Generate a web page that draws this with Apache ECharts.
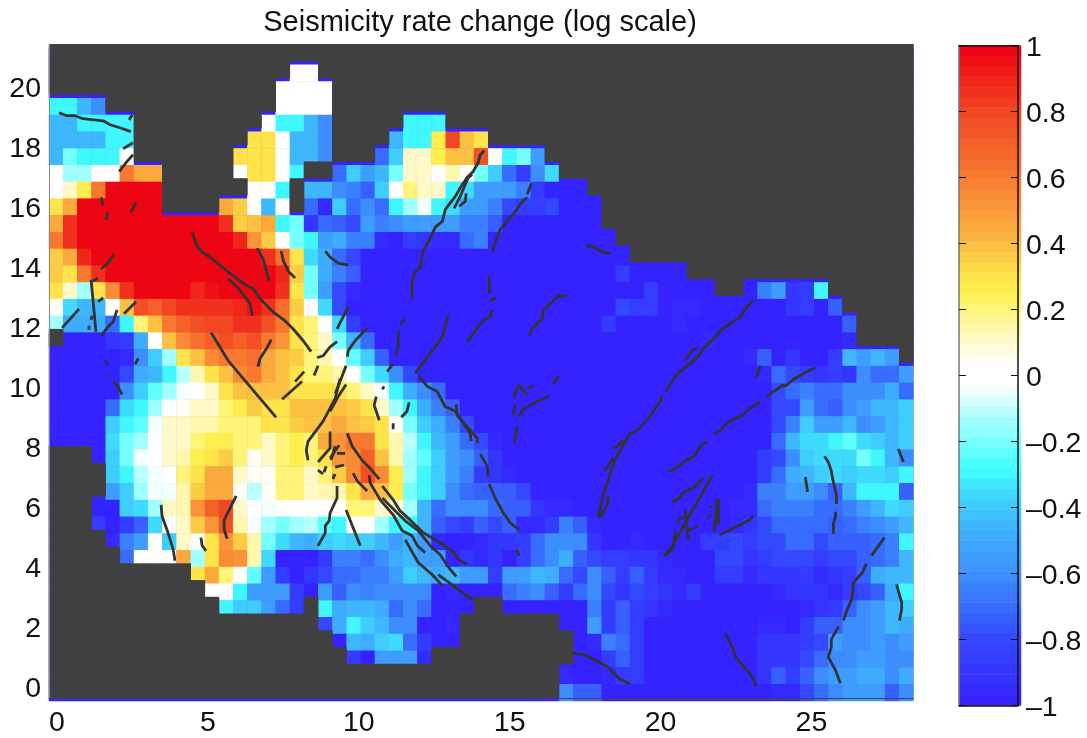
<!DOCTYPE html>
<html>
<head>
<meta charset="utf-8">
<style>html,body{margin:0;padding:0;background:#fff}#c{width:1087px;height:738px}</style>
<script src="https://cdn.jsdelivr.net/npm/echarts@6/dist/echarts.min.js"></script>
</head>
<body>
<div id="c"></div>
<script>
var titleText = 'Seismicity rate change (log scale)';
var xTicks = [0, 5, 10, 15, 20, 25];
var yTicks = [0, 2, 4, 6, 8, 10, 12, 14, 16, 18, 20];
var xRange = [-0.265, 28.38];
var yRange = [-0.365, 21.43];
var levelChars = 'ABCDEFGHIJKLMNOPQRST0abcdefghijklmnopqrst';
// one string per map row (top to bottom), one character per cell: A = -1 ... 0 = 0 ... t = 1, '.' = no data
var rateRows = [
'.......... .......... .......... .......... .......... .......... .',
'.......... .......00. .......... .......... .......... .......... .',
'.......... ......0000 .......... .......... .......... .......... .',
'OOLI...... ......0000 .......... .......... .......... .......... .',
'LLOOOO.... .....0OOLI .....OOO.. .......... .......... .......... .',
'LLLLOO.... ....ff0LLI ....LOOeph f......... .......... .......... .',
'LQOOO0.... ...fff0LLI ...GMbbehh o0OQJ..... .......... .......... .',
'0RR00lii.. ...0ff0O.. GMJLQbb0ca QMGDIN.... .......... .......... .',
'0beltttt.. ....00O.LL IHFM0dbbON JJJHDAAA.. .......... .......... .',
'fitttttt.. ..ig0L0.GB MGIGORTONJ JHEDDEAAA. .......... .......... .',
'iqtttttttt ttqghiOQCG FEJHIJJJJH HFAAAAAAA. .......... .......... .',
'lqtttttttt tttrjg0QOJ KHHBADCBBG HAAAAAAAAA .......... .......... .',
'girttttttt tttttqmfNK GEAAAAAAAA AAAAAAAAAA A......... .......... .',
'gflqtttttt ttttttrgQK HFAAAAAAAA AAAAAAAAAA DAAAA..... .......... .',
'fbRfkqtttt rsttttqfQJ EBAAAAAAAA AAAAAAAAAA AADAAAA..A HJCDO..... .',
'aNLL0honpq qqqrsqmg0N EAAAAAAAAA AAAAAAAAAA EDDABBAAAA AACDAF.... .',
'RKKKGOdhln oppqqolfd0 NDAAAAAAAA AAAAAAAAAD AAAABAAAAA AAAAAAF... .',
'.AAACDK0hk mnonoljfdb QLGAAAAAAA AAAAAAAAAA AAAAAABAAA AAAAAAB... .',
'AAAAABIMRf hkllmihgdc 0PMFAAAAAA AAAAAAAAAA AAAAAAAAAB FACAADLJLJ .',
'AAAAAEKLOS cfhklihfdd c0QNIEAAAA AAAAAAAAAA AAAAAAAAAA BGEDCDCIGG J',
'AAAAAIMPRT 0bfhhhhfff fdbTOKIGAA AAAAAAAAAA AAAAAAAAAA AEGHGGIIIK G',
'AAAAGNOR0a bbdegffhhh hgfbROKHFA AAAAAAAAAA AAAAAAAAAA AEEJGFIJLL M',
'AAAAMOPTbb ccdddffghh ihgfaQMKHE AAAAAAAAAA AAAAAAAAAA AEHMJJLIJL M',
'AAAANQR0bb deeddbdedi jllfcSOLJG EBAAAAAAAA AAAAAAAAAA AGLNNOPNML M',
'...AMQT0bc efgdabdedf jknhcRPMJI FCAAAAAAAA AAAAAAAAAA DEIMNNNQOL I',
'....MOST0d fiibaaddbd gkokeROMJH DCBAAAAAAA AAAAAAAAAA DGKLMNMNNM O',
'....JMRTTc giiaSaddbc cfiheQOMIG FFFEAAAAAA AAAAAAAAAB HHJJIFLOOO F',
'...AAMNRbc jnpb0Ta000 0ddbbRLGII IGFFCBBAAA AAAAAAAABB GHHHGGHJLN M',
'...DADFN0b gjocTRQRSP O00ROOLFED FEFBBDHFBA AAAAAAAABC EGGGGFGHIJ L',
'....BHJ0Mb afjgcQNLKM NMMLJLJBAA BCCDGIIICA ABAAAADDED EEGGEFFFGH O',
'.....G000i RfkjcNAAAD HHGIKLJJAC BCADGIKFED DCCBAAAEEC DEEEDEEFGH L',
'.......... fid0PJDACE GGHHJMLKLJ JDJJLKGEIF DFDBBAADDB CCCDBCDFKL L',
'.......... .00OJJJDAJ FIHIIIIABA AAGHIFDGIE CEDCBDAAAA ABCCCBDEFK O',
'.......... ..OMMJGD.O KLLKGIGAAA ..AAAAAAHD FDCBAAAAAA AAABCDFIJL M',
'.......... .........E KOMLIIAAB. ......AAJD FDAAAAAAAA BBADFFIIJL K',
'.......... .......... ALKMNGDAA. .......ABH GDAAAAAAAA CCCDEJIIJI J',
'.......... .......... .DAJJJB... .......AAD FDAAAAAAAA CCCEGIIJJI I',
'.......... .......... .......... ......BAAB DDAAAAAAAA CFDFIJJKKI K',
'.......... .......... .......... ......IFFA AAAAAAAAAA ABBEGIJJJF I'
];
var colorStops = [
[-1,'#3420FF'],[-0.8,'#3448FF'],[-0.6,'#3D90FF'],[-0.5,'#3EA8FF'],[-0.4,'#3FC8FF'],[-0.28,'#40FFFF'],
[-0.1,'#BFFFFF'],[-0.035,'#FFFFFF'],[0.035,'#FFFFFF'],[0.12,'#FFF8C0'],[0.25,'#FFF04F'],[0.32,'#FDDC48'],
[0.42,'#FBB43F'],[0.6,'#F87A31'],[0.8,'#F24622'],[1,'#EE0012']
];
var bandCount = 64;
var noDataColor = '#404040';
var faults = [
[[0.07,19.14],[0.33,19.04],[0.6,19.04],[0.86,18.94],[1.53,18.87],[1.76,18.74],[2.09,18.64],[2.45,18.51]],
[[2.39,18.9],[2.49,19.07]],
[[2.19,17.94],[2.52,18.14]],
[[2.06,17.18],[2.29,17.48],[2.52,17.74]],
[[1.46,16.32],[1.53,16.05]],
[[1.62,15.56],[1.69,15.82]],
[[2.45,15.82],[2.62,16.15]],
[[4.48,15.16],[4.64,14.69],[4.81,14.49],[5.07,14.33],[5.47,14.0],[5.84,13.7],[6.3,13.37],[6.5,13.27],[6.8,12.87],[7.16,12.5],[7.56,12.2],[7.82,11.94],[8.16,11.54],[8.42,11.18]],
[[5.67,13.6],[5.97,13.33],[6.23,13.0],[6.4,12.77],[6.47,12.37]],
[[6.63,14.63],[6.83,14.26],[7.03,13.53]],
[[7.43,14.53],[7.5,14.2],[7.66,13.86],[7.89,13.63]],
[[8.89,14.53],[9.05,14.33],[9.32,14.13],[9.65,14.06]],
[[1.89,14.43],[1.69,14.13],[1.46,13.93]],
[[1.36,13.63],[1.19,13.53]],
[[1.13,13.57],[1.19,12.94],[1.29,11.84]],
[[1.36,12.84],[1.53,12.97]],
[[1.16,12.37],[1.13,12.24]],
[[1.06,12.04],[1.06,11.91]],
[[0.17,11.97],[0.73,12.6]],
[[1.99,12.57],[1.86,12.17],[1.69,12.0],[1.46,11.71]],
[[2.22,12.44],[2.62,12.84]],
[[1.59,10.88],[1.69,10.75]],
[[1.69,10.38],[1.76,10.38]],
[[1.86,10.18],[1.99,10.05],[2.16,9.75]],
[[2.69,10.95],[2.59,10.75]],
[[5.11,11.81],[5.67,10.88],[7.26,8.99]],
[[7.1,11.58],[6.96,11.31],[6.73,10.95],[6.66,10.68]],
[[7.46,9.59],[8.12,10.18]],
[[7.89,10.18],[8.19,10.51]],
[[8.52,10.38],[8.65,10.71]],
[[8.62,10.98],[8.82,11.04],[9.05,11.34],[9.28,11.51]],
[[9.65,12.67],[9.28,11.94]],
[[9.38,10.28],[9.22,9.62],[8.82,8.86],[8.32,8.19],[8.26,7.89],[8.32,7.56]],
[[9.05,8.52],[9.05,7.96],[8.65,7.5]],
[[9.22,8.03],[9.08,7.56]],
[[8.65,7.23],[8.82,7.1]],
[[8.92,7.36],[8.85,7.16]],
[[9.22,7.1],[9.15,6.97]],
[[10.28,11.97],[9.88,11.54],[9.65,11.21],[9.62,11.01]],
[[9.58,10.71],[9.38,10.18],[9.22,9.78]],
[[9.58,10.08],[9.32,9.68],[9.05,9.19]],
[[10.58,9.68],[10.51,9.39],[10.68,8.89]],
[[10.84,10.02],[10.78,9.92]],
[[11.67,9.49],[11.6,9.19],[11.41,8.99]],
[[11.14,8.79],[11.14,8.59]],
[[11.31,11.87],[11.31,11.44],[11.24,11.04]],
[[11.14,10.78],[10.94,10.51]],
[[11.54,12.27],[11.37,12.07]],
[[12.96,12.4],[12.77,11.67],[11.87,10.45]],
[[12.0,10.35],[12.27,10.02],[12.6,9.85],[12.86,9.35],[13.2,9.19],[13.69,8.46],[13.73,8.19]],
[[13.23,9.42],[13.26,9.05],[13.93,8.29],[13.93,8.13]],
[[14.03,7.76],[14.26,7.36],[14.29,7.0]],
[[14.32,6.77],[14.52,6.3],[14.79,5.8],[15.02,5.47],[15.32,5.24]],
[[15.22,4.58],[15.32,4.38]],
[[13.59,11.51],[13.79,11.77],[13.93,12.0],[14.12,12.21],[14.36,12.34],[14.42,12.57]],
[[14.32,13.67],[14.32,13.1]],
[[14.36,12.87],[14.56,12.97]],
[[11.77,12.94],[11.77,13.53],[11.87,13.83],[12.04,14.0],[12.13,14.53],[12.36,14.93],[12.53,15.32],[12.77,15.52],[12.87,15.92],[13.2,16.35],[13.37,16.65],[13.59,16.98],[13.79,17.18],[13.96,17.48],[14.03,17.74],[14.16,17.88]],
[[13.16,15.95],[13.36,16.35],[13.63,16.98],[13.76,17.08]],
[[13.33,16.02],[13.53,16.19],[13.56,16.45]],
[[14.42,14.49],[14.56,14.93],[14.69,15.26],[15.12,15.75],[15.35,16.09],[15.58,16.32]],
[[15.58,16.42],[15.72,16.78]],
[[15.65,11.71],[15.78,12.0],[16.08,12.27],[16.11,12.54],[16.61,13.03],[16.88,13.03]],
[[17.54,14.69],[17.74,14.69],[18.07,14.49],[18.34,14.46]],
[[15.12,9.05],[15.19,9.39]],
[[15.15,9.62],[15.19,9.82],[15.32,10.05],[15.58,9.72]],
[[15.58,9.95],[15.78,10.02]],
[[15.32,8.99],[15.42,9.25],[16.31,9.72]],
[[16.45,10.08],[16.51,10.22],[16.64,10.35]],
[[15.25,8.69],[15.15,8.13]],
[[17.94,5.64],[18.1,6.4],[18.47,7.53],[18.67,7.89],[18.97,8.42],[19.23,8.56],[19.66,9.02],[19.83,9.29],[19.99,9.52],[20.06,9.72]],
[[20.16,9.85],[20.56,10.45],[20.89,10.71],[21.25,11.01],[21.42,11.28],[21.82,11.67],[22.05,11.94],[22.65,12.34],[22.88,12.7],[23.08,12.9]],
[[18.43,7.63],[18.14,7.2]],
[[18.77,8.23],[18.57,8.03],[18.4,7.96]],
[[18.27,6.37],[18.24,6.07],[18.0,5.64]],
[[18.27,6.87],[18.17,6.63]],
[[20.79,10.85],[21.05,11.21],[21.22,11.31]],
[[23.18,10.32],[23.31,10.71]],
[[20.26,7.2],[20.42,7.23],[20.76,7.5],[21.12,7.69],[21.32,8.03],[21.55,8.19]],
[[21.78,8.42],[21.98,8.56],[22.22,8.82],[22.71,9.05],[22.88,9.22],[23.31,9.52]],
[[23.51,9.68],[24.04,10.05],[24.17,10.05],[24.4,10.25],[24.8,10.48],[25.13,10.65]],
[[25.43,7.69],[25.56,7.5],[25.66,7.2],[25.7,6.96],[25.83,6.4],[25.83,6.1]],
[[25.8,5.84],[25.8,5.67],[25.73,5.47],[25.73,5.11]],
[[24.8,7.0],[24.87,6.5]],
[[27.88,7.93],[28.05,7.5]],
[[27.42,4.98],[26.99,4.38]],
[[26.82,4.11],[26.69,3.81],[26.39,3.48],[26.36,2.99],[26.19,2.59],[26.06,2.22]],
[[25.9,2.02],[25.66,1.59],[25.66,1.33],[25.56,1.0],[25.8,0.56],[25.96,0.13]],
[[27.82,3.42],[27.99,2.82],[27.99,2.59],[27.92,2.22]],
[[22.15,1.79],[22.41,1.26],[22.48,1.0],[22.98,0.43],[23.18,0.03]],
[[17.08,1.13],[17.51,1.06],[18.27,0.66],[18.63,0.27],[19.0,0.1]],
[[20.39,6.17],[20.56,6.24],[20.82,6.53],[21.09,6.63],[21.42,6.97]],
[[20.13,4.38],[20.42,4.74],[21.72,7.06]],
[[20.13,4.38],[20.39,4.58],[20.46,4.88],[20.49,5.21]],
[[20.82,5.94],[20.92,4.88]],
[[20.56,5.47],[20.62,5.6],[20.89,5.7]],
[[20.92,5.21],[21.22,5.37]],
[[21.92,6.27],[21.92,5.41]],
[[21.78,5.17],[21.88,6.27]],
[[21.68,6.04],[21.68,5.97]],
[[21.55,5.64],[21.68,5.74]],
[[21.95,5.07],[22.91,5.54],[23.08,5.7]],
[[3.45,6.07],[3.48,5.7],[3.68,5.14],[3.85,4.58],[3.91,4.21]],
[[4.77,4.98],[4.81,4.71],[4.94,4.54]],
[[5.94,6.37],[5.54,5.57],[5.54,5.24],[5.64,4.94]],
[[9.28,6.7],[9.28,6.3],[9.05,5.8],[9.02,5.54],[8.89,5.37],[8.89,5.14],[8.65,4.71]],
[[9.62,8.46],[9.78,8.03],[10.11,7.56],[10.31,7.36],[10.68,6.93]],
[[9.81,7.13],[9.95,6.87],[10.28,6.53]],
[[10.34,7.06],[10.38,6.8],[10.54,6.53],[10.71,6.24],[11.14,5.74],[11.44,5.21],[11.77,5.04],[11.94,4.71],[12.2,4.48]],
[[10.78,6.7],[11.14,6.24],[11.37,5.87],[11.7,5.57],[12.14,5.14],[12.7,4.81],[13.1,4.54],[13.3,4.25],[13.59,4.08]],
[[10.78,6.3],[11.21,5.87],[11.54,5.54],[11.97,5.21],[12.37,4.71],[12.7,4.41],[12.93,4.05],[13.23,3.68]],
[[11.54,4.91],[11.97,4.15],[12.43,3.75],[12.77,3.38]],
[[12.63,3.75],[13.13,3.38],[13.79,2.89]],
[[9.58,5.9],[10.05,4.71]],
[[9.28,7.79],[9.55,7.79]],
[[9.22,7.33],[9.51,7.4]],
[[9.35,8.06],[9.05,7.63]],
[[9.15,6.93],[9.18,7.07]]
];

var rows = rateRows.map(function (r) { return r.replace(/ /g, ''); });
var nRows = rows.length, nCols = rows[0].length;
var idx = function (n) { var a = []; for (var i = 0; i < n; i++) a.push(i); return a; };
var rateCells = [], maskCells = [];
rows.forEach(function (row, r) {
  for (var c = 0; c < nCols; c++) {
    var ch = row.charAt(c), yIdx = nRows - 1 - r;
    if (ch === '.') { rateCells.push([c, yIdx, -1]); maskCells.push([c, yIdx, 1]); }
    else rateCells.push([c, yIdx, (levelChars.indexOf(ch) - 20) / 20]);
  }
});
function hex(s) { return [1, 3, 5].map(function (i) { return parseInt(s.substr(i, 2), 16); }); }
function colorAt(v) {
  for (var i = 1; i < colorStops.length; i++) {
    if (v <= colorStops[i][0]) {
      var a = colorStops[i - 1], b = colorStops[i], t = (v - a[0]) / (b[0] - a[0]);
      var ca = hex(a[1]), cb = hex(b[1]);
      return 'rgb(' + ca.map(function (x, k) { return Math.round(x + (cb[k] - x) * t); }).join(',') + ')';
    }
  }
  return colorStops[colorStops.length - 1][1];
}
var pieces = idx(bandCount).map(function (i) {
  var lo = -1 + 2 * i / bandCount, hi = -1 + 2 * (i + 1) / bandCount;
  var p = { gte: lo, color: colorAt((lo + hi) / 2) };
  if (i === bandCount - 1) p.lte = 1; else p.lt = hi;
  return p;
});
var barCells = idx(bandCount).map(function (i) { return [0, i, -1 + 2 * (i + 0.5) / bandCount]; });

var FONT = '"Liberation Sans", Arial, sans-serif';
var hiddenCat = function (g, n) {
  return { type: 'category', gridIndex: g, data: idx(n), show: false, boundaryGap: true };
};
var valueFmt = function (v) {
  var s = String(Math.round(Math.abs(v) * 10) / 10);
  return (v < -0.001 ? '\u2013' : '') + s;
};
var series = [
  { type: 'heatmap', name: 'rate', xAxisIndex: 1, yAxisIndex: 1, data: rateCells, z: 1, progressive: 0, silent: true },
  { type: 'heatmap', name: 'no data', xAxisIndex: 2, yAxisIndex: 2, data: maskCells, z: 2, progressive: 0, silent: true,
    itemStyle: { color: noDataColor } },
  { type: 'heatmap', name: 'colorbar', xAxisIndex: 3, yAxisIndex: 3, data: barCells, z: 1, progressive: 0, silent: true }
];
faults.forEach(function (f) {
  series.push({ type: 'line', xAxisIndex: 0, yAxisIndex: 0, data: f, z: 5, showSymbol: false, symbol: 'none',
    silent: true, clip: true, lineStyle: { color: '#333333', width: 2.8, join: 'round' } });
});
var option = {
  animation: false,
  backgroundColor: '#fff',
  title: { text: titleText, left: 475, top: 3, textAlign: 'center',
    textStyle: { fontFamily: FONT, fontWeight: 'normal', fontSize: 29, color: '#111' } },
  grid: [
    { left: 49, top: 44, width: 864.4, height: 657, show: true, backgroundColor: noDataColor, borderWidth: 0 },
    { left: 49, top: 48, width: 864.4, height: 653 },
    { left: 49, top: 44.5, width: 864.4, height: 653 },
    { left: 959, top: 45.5, width: 62, height: 660 },
    { left: 959, top: 45.5, width: 59, height: 660 }
  ],
  xAxis: [
    { type: 'value', gridIndex: 0, min: xRange[0], max: xRange[1], splitLine: { show: false }, z: 6,
      axisLine: { show: true, onZero: false, lineStyle: { color: '#444', width: 1 } }, axisTick: { show: false },
      axisLabel: { customValues: xTicks, margin: 11, fontFamily: FONT, fontSize: 28.5, color: '#111' } },
    hiddenCat(1, nCols), hiddenCat(2, nCols), hiddenCat(3, 1),
    { type: 'value', gridIndex: 4, min: 0, max: 1, position: 'bottom', splitLine: { show: false }, z: 6,
      axisLine: { show: true, onZero: false, lineStyle: { color: '#111', width: 1.5 } }, axisTick: { show: false }, axisLabel: { show: false } },
    { type: 'value', gridIndex: 4, min: 0, max: 1, position: 'top', splitLine: { show: false }, z: 6,
      axisLine: { show: true, onZero: false, lineStyle: { color: '#111', width: 1.5 } }, axisTick: { show: false }, axisLabel: { show: false } }
  ],
  yAxis: [
    { type: 'value', gridIndex: 0, min: yRange[0], max: yRange[1], splitLine: { show: false }, z: 6,
      axisLine: { show: true, onZero: false, lineStyle: { color: '#888', width: 1 } }, axisTick: { show: false },
      axisLabel: { customValues: yTicks, margin: 8, verticalAlign: 'top', lineHeight: 4, fontFamily: FONT, fontSize: 28.5, color: '#111' } },
    hiddenCat(1, nRows), hiddenCat(2, nRows), hiddenCat(3, bandCount),
    { type: 'value', gridIndex: 4, min: -1, max: 1, interval: 0.2, position: 'right', splitLine: { show: false }, z: 6,
      axisLine: { show: true, onZero: false, lineStyle: { color: '#111', width: 1.5 } },
      axisTick: { show: true, inside: true, length: 7, lineStyle: { color: '#111', width: 1 } },
      axisLabel: { margin: 8, verticalAlign: 'top', lineHeight: 6, formatter: valueFmt, fontFamily: FONT, fontSize: 28.5, color: '#111' } },
    { type: 'value', gridIndex: 4, min: -1, max: 1, interval: 0.2, position: 'left', splitLine: { show: false }, z: 6,
      axisLine: { show: true, onZero: false, lineStyle: { color: '#777', width: 1.5 } },
      axisTick: { show: true, inside: true, length: 7, lineStyle: { color: '#111', width: 1 } },
      axisLabel: { show: false } }
  ],
  visualMap: { type: 'piecewise', show: false, dimension: 2, seriesIndex: [0, 2], pieces: pieces },
  series: series
};
var chart = echarts.init(document.getElementById('c'), null, { renderer: 'canvas' });
chart.setOption(option);
</script>
</body>
</html>
